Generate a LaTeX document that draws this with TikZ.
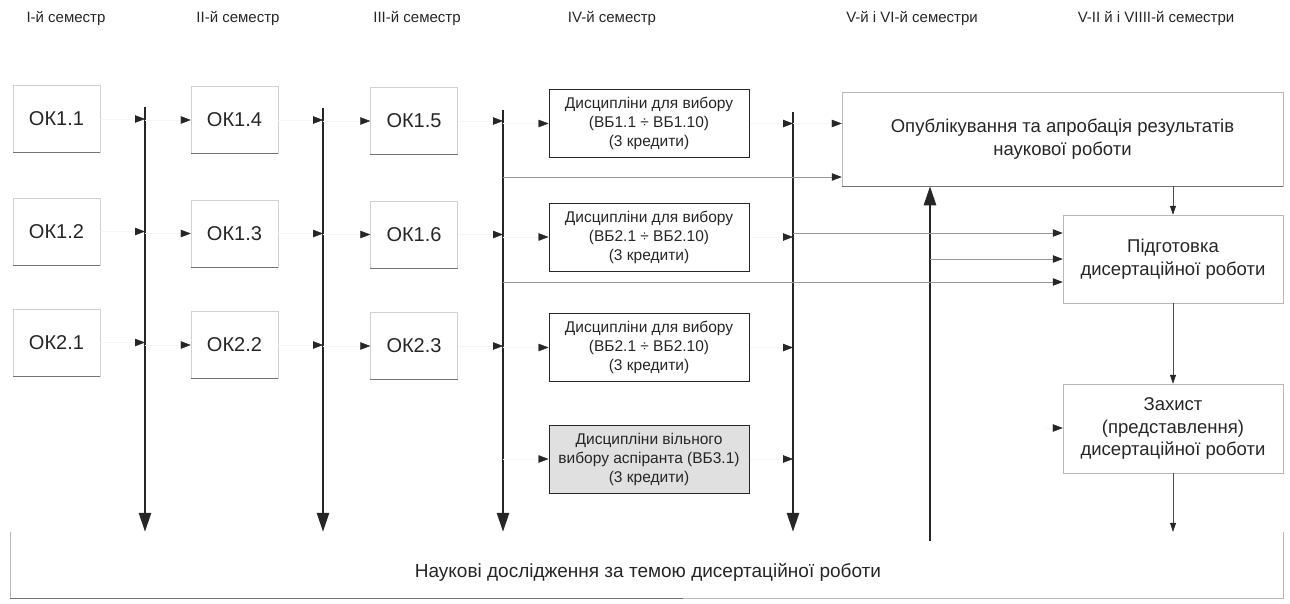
\documentclass[tikz,border=0pt]{standalone}
\usepackage{fontspec}
\setmainfont{Liberation Sans}
\usetikzlibrary{arrows.meta}
\begin{document}
\begin{tikzpicture}[x=1pt,y=-1pt,
  every node/.style={text=black!85},
  okbox/.style={draw=black!18, line width=0.5pt, minimum width=87pt, minimum height=67pt, inner sep=0pt, font=\fontsize{20}{24}\selectfont},
  vbbox/.style={draw=black!85, line width=1pt, minimum width=200pt, minimum height=68pt, inner sep=0pt, align=center, font=\fontsize{15.5}{19}\selectfont},
  bigbox/.style={draw=black!28, line width=0.5pt, inner sep=0pt, align=center, font=\fontsize{18.5}{22.5}\selectfont},
  hdr/.style={font=\fontsize{15}{18}\selectfont},
  timeline/.style={line width=2.6pt, draw=black!85, -{Triangle[length=19pt,width=12pt]}},
  stub/.style={draw=black!4, line width=0.4pt, -{Triangle[length=10pt,width=7.5pt,color=black!85]}},
  feed/.style={draw=black!40, line width=0.6pt, -{Triangle[length=10pt,width=7.5pt,color=black!85]}},
  downarrow/.style={draw=black!70, line width=0.6pt, -{Triangle[length=9pt,width=6pt,color=black!85]}},
  edge dark/.style={draw=black!55, line width=0.7pt}
]
\useasboundingbox (0,0) rectangle (1290,603);

% headers
\node[hdr] (h1) at (66,18) {I-й семестр};
\node[hdr] (h2) at (238,18) {II-й семестр};
\node[hdr] (h3) at (417,18) {III-й семестр};
\node[hdr] (h4) at (612,18) {IV-й семестр};
\node[hdr] (h5) at (912,18) {V-й і VI-й семестри};
\node[hdr] (h6) at (1156,18) {V-II й і VIIII-й семестри};

% OK boxes
\node[okbox] (ok11) at (56.5,119) {ОК1.1};
\node[okbox] (ok12) at (56.5,231.5) {ОК1.2};
\node[okbox] (ok21) at (56.5,342.5) {ОК2.1};
\node[okbox] (ok14) at (234.5,120) {ОК1.4};
\node[okbox] (ok13) at (234.5,233.5) {ОК1.3};
\node[okbox] (ok22) at (234.5,345) {ОК2.2};
\node[okbox] (ok15) at (414,121) {ОК1.5};
\node[okbox] (ok16) at (414,234.5) {ОК1.6};
\node[okbox] (ok23) at (414,346) {ОК2.3};
\foreach \a in {ok11,ok12,ok21,ok14,ok13,ok22,ok15,ok16,ok23}
  \draw[edge dark] (\a.south west) -- (\a.south east);

% elective boxes
\node[vbbox] (vb1) at (649,123.5) {Дисципліни для вибору\\(ВБ1.1 ÷ ВБ1.10)\\(3 кредити)};
\node[vbbox] (vb2) at (649,237) {Дисципліни для вибору\\(ВБ2.1 ÷ ВБ2.10)\\(3 кредити)};
\node[vbbox] (vb3) at (649,347.5) {Дисципліни для вибору\\(ВБ2.1 ÷ ВБ2.10)\\(3 кредити)};
\node[vbbox, fill=black!12] (vb4) at (649,459) {Дисципліни вільного\\вибору аспіранта (ВБ3.1)\\(3 кредити)};

% right boxes
\node[bigbox, minimum width=441pt, minimum height=94pt] (pub) at (1062.5,139) {Опублікування та апробація результатів\\наукової роботи};
\node[bigbox, minimum width=220pt, minimum height=88pt] (pid) at (1173,259) {Підготовка\\дисертаційної роботи};
\node[bigbox, minimum width=220pt, minimum height=89pt] (zah) at (1173,428.5) {Захист\\(представлення)\\дисертаційної роботи};
\draw[edge dark] (pub.south west) -- (pub.south east);

% bottom box
\node[minimum width=1273pt, minimum height=66pt, inner sep=0pt] (bot) at (646.5,565) {};
\draw[draw=black!28, line width=0.5pt] (bot.north west) -- (bot.south west) -- (bot.south east) -- (bot.north east);
\draw[edge dark] (bot.south west) -- ([xshift=-600pt]bot.south east);
\node[font=\fontsize{19}{23}\selectfont] (bottxt) at (648,572) {Наукові дослідження за темою дисертаційної роботи};

% timelines
\coordinate (t1) at (145,107);
\coordinate (t2) at (323,108);
\coordinate (t3) at (503,110);
\coordinate (t4) at (793,112);
\foreach \t in {t1,t2,t3,t4}
  \draw[timeline] (\t) -- (\t |- bot.north);
\coordinate (u0) at (930,541);
\draw[timeline] (u0) -- (u0 |- pub.south);

% stubs
\foreach \a in {ok11,ok12,ok21}
  \draw[stub] (\a.east) -- (\a.east -| t1);
\foreach \a in {ok14,ok13,ok22}{
  \draw[stub] (\a.west -| t1) -- (\a.west);
  \draw[stub] (\a.east) -- (\a.east -| t2);}
\foreach \a in {ok15,ok16,ok23}{
  \draw[stub] (\a.west -| t2) -- (\a.west);
  \draw[stub] (\a.east) -- (\a.east -| t3);}
\foreach \a in {vb1,vb2,vb3,vb4}{
  \draw[stub] (\a.west -| t3) -- (\a.west);
  \draw[stub] (\a.east) -- (\a.east -| t4);}
\draw[stub] (vb1.east -| t4) -- (vb1.east -| pub.west);

% feed lines
\coordinate (f1) at (503,177);
\draw[feed] (f1) -- (f1 -| pub.west);
\coordinate (f2) at (793,233);
\draw[feed] (f2) -- (f2 -| pid.west);
\coordinate (f3) at (930,259);
\draw[feed] (f3) -- (f3 -| pid.west);
\coordinate (f4) at (503,282);
\draw[feed] (f4) -- (f4 -| pid.west);
\coordinate (f5) at (1045,428);
\draw[stub] (f5) -- (f5 -| zah.west);

% down arrows
\draw[downarrow] (pub.south -| pid.north) -- (pid.north);
\draw[downarrow] (pid.south) -- (zah.north);
\draw[downarrow] (zah.south) -- (zah.south |- bot.north);
\end{tikzpicture}
\end{document}
